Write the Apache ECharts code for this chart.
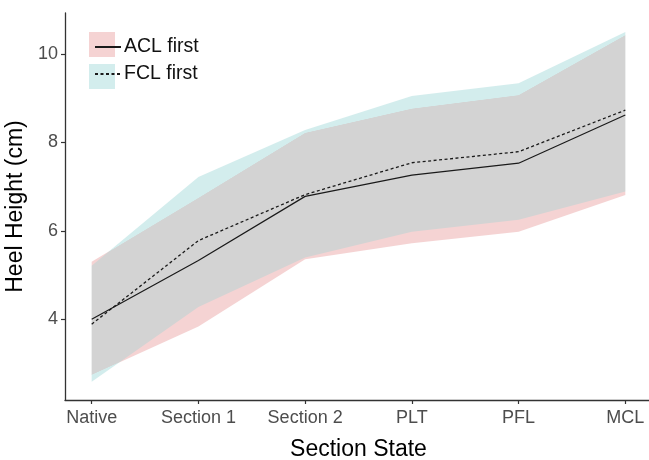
<!DOCTYPE html>
<html>
<head>
<meta charset="utf-8">
<script src="https://cdn.jsdelivr.net/npm/echarts@6/dist/echarts.min.js"></script>
<style>
html,body{margin:0;padding:0;background:#fff;}
#chart{width:649px;height:460px;}
</style>
</head>
<body>
<div id="chart"></div>
<script>
// ---- data ----
const categories = ['Native', 'Section 1', 'Section 2', 'PLT', 'PFL', 'MCL'];
const aclMean  = [4.00, 5.33, 6.78, 7.26, 7.53, 8.62];
const aclLower = [2.74, 3.84, 5.36, 5.72, 5.98, 6.81];
const aclUpper = [5.30, 6.75, 8.22, 8.77, 9.07, 10.43];
const fclMean  = [3.89, 5.78, 6.82, 7.54, 7.79, 8.73];
const fclLower = [2.59, 4.28, 5.40, 5.98, 6.25, 6.89];
const fclUpper = [5.21, 7.22, 8.28, 9.05, 9.34, 10.50];
const yTicks = [4, 6, 8, 10];
const seriesNames = ['ACL first', 'FCL first'];

const FONT = 'Liberation Sans, Arial, sans-serif';
const PINK = '#f5d3d3';
const CYAN = '#d3eded';
const xPos = categories.map((c, i) => i + 1);

function bandSeries(name, lower, upper, color) {
  return {
    name: name + ' band',
    type: 'custom',
    blendMode: 'darken',
    silent: true,
    z: 1,
    data: xPos.map((x, i) => [x, lower[i], upper[i]]),
    renderItem: function (params, api) {
      if (params.dataIndex !== 0) return null;
      const pts = [];
      for (let i = 0; i < xPos.length; i++) pts.push(api.coord([xPos[i], upper[i]]));
      for (let i = xPos.length - 1; i >= 0; i--) pts.push(api.coord([xPos[i], lower[i]]));
      return {
        type: 'polygon',
        shape: { points: pts },
        style: { fill: color, stroke: null, blend: 'darken' }
      };
    }
  };
}

const chart = echarts.init(document.getElementById('chart'), null, { renderer: 'canvas' });
chart.setOption({
  backgroundColor: '#ffffff',
  animation: false,
  textStyle: { fontFamily: FONT },
  grid: { left: 65, top: 13, width: 587, height: 387, containLabel: false, outerBoundsMode: 'none' },
  xAxis: {
    type: 'value',
    min: 0.75,
    max: 6.25,
    name: 'Section State',
    nameLocation: 'middle',
    nameGap: 38,
    nameTextStyle: { fontSize: 23, color: '#000', fontFamily: FONT },
    axisLine: { show: true, onZero: false, lineStyle: { color: '#333', width: 1.3 } },
    axisTick: { show: true, length: 4, customValues: xPos, lineStyle: { color: '#333', width: 1.2 } },
    axisLabel: {
      customValues: xPos,
      margin: 9,
      fontSize: 18,
      color: '#4d4d4d',
      fontFamily: FONT,
      formatter: function (v) { return categories[Math.round(v) - 1] || ''; }
    },
    splitLine: { show: false }
  },
  yAxis: {
    type: 'value',
    min: 2.175,
    max: 10.927,
    name: 'Heel Height (cm)',
    nameLocation: 'middle',
    nameGap: 32,
    nameTextStyle: { fontSize: 23, color: '#000', fontFamily: FONT },
    axisLine: { show: true, onZero: false, lineStyle: { color: '#333', width: 1.3 } },
    axisTick: { show: true, length: 4, customValues: yTicks, lineStyle: { color: '#333', width: 1.2 } },
    axisLabel: { customValues: yTicks, margin: 7, fontSize: 18, color: '#4d4d4d', fontFamily: FONT },
    splitLine: { show: false }
  },
  legend: {
    data: seriesNames,
    left: 89,
    top: 32,
    orient: 'vertical',
    itemWidth: 26,
    itemHeight: 25,
    itemGap: 7,
    selectedMode: false,
    itemStyle: { opacity: 0, borderWidth: 0 },
    textStyle: { fontSize: 19.5, color: '#111', fontFamily: FONT, padding: [0, 0, 0, -2] }
  },
  graphic: [
    { type: 'rect', left: 89, top: 32, z: 0, shape: { width: 26, height: 25 }, style: { fill: PINK } },
    { type: 'rect', left: 89, top: 64, z: 0, shape: { width: 26, height: 25 }, style: { fill: CYAN } }
  ],
  series: [
    bandSeries('ACL first', aclLower, aclUpper, PINK),
    bandSeries('FCL first', fclLower, fclUpper, CYAN),
    {
      name: seriesNames[0],
      type: 'line',
      z: 5,
      symbol: 'none',
      data: xPos.map((x, i) => [x, aclMean[i]]),
      lineStyle: { color: '#1a1a1a', width: 1.2, type: 'solid' },
      itemStyle: { color: '#1a1a1a' }
    },
    {
      name: seriesNames[1],
      type: 'line',
      z: 5,
      symbol: 'none',
      data: xPos.map((x, i) => [x, fclMean[i]]),
      lineStyle: { color: '#1a1a1a', width: 1.3, type: [3, 2.5] },
      itemStyle: { color: '#1a1a1a' }
    }
  ]
});
</script>
</body>
</html>
